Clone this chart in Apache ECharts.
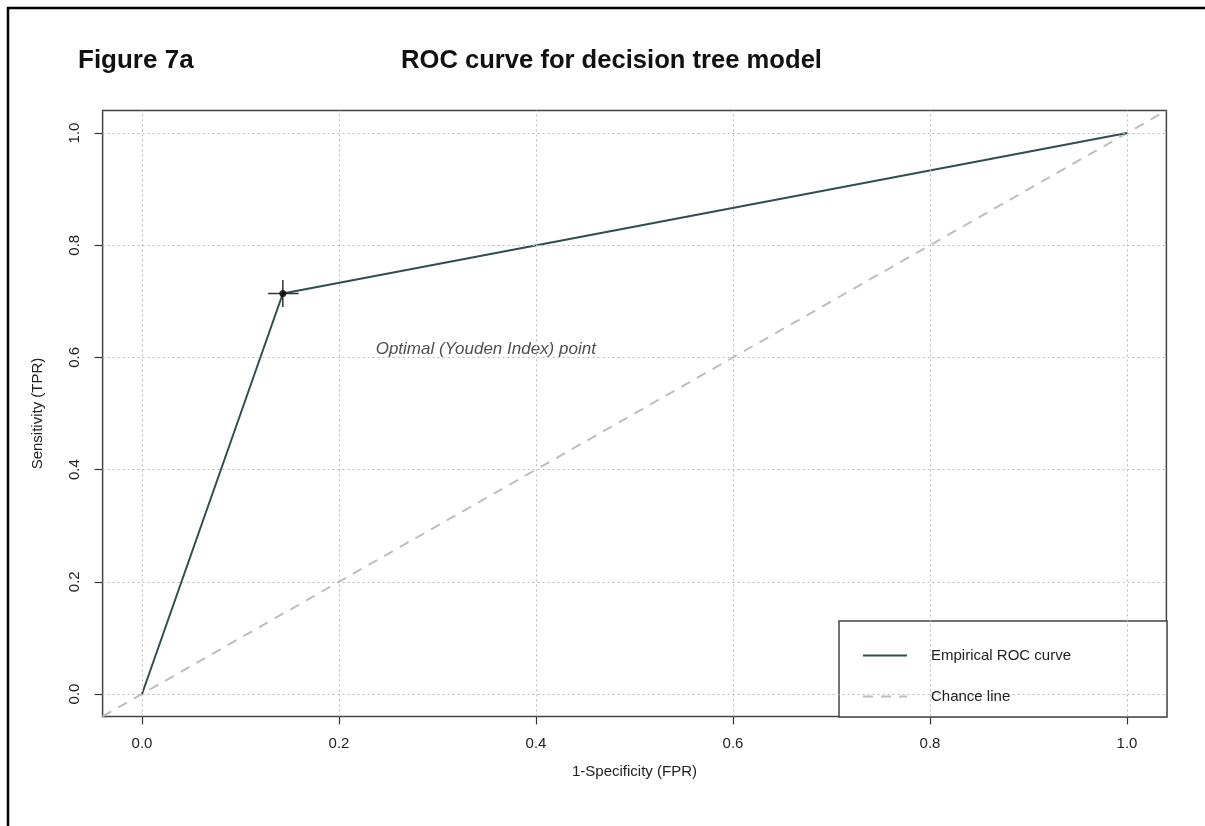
<!DOCTYPE html>
<html><head><meta charset="utf-8">
<script src="https://cdn.jsdelivr.net/npm/echarts@6/dist/echarts.min.js"></script>
<style>html,body{margin:0;padding:0;background:#fff}#c{width:1205px;height:826px}</style>
</head><body><div id="c"></div>
<script>
// ---- data ----
const rocFPR = [0, 0.143, 1];
const rocTPR = [0, 0.714, 1];
const chanceFPR = [-0.04, 1.04];
const chanceTPR = [-0.04, 1.04];
const optimalPoint = [0.143, 0.714];
const ciFPR = [0.128, 0.159];
const ciTPR = [0.690, 0.738];
const tickValues = [0, 0.2, 0.4, 0.6, 0.8, 1.0];
const annotationText = 'Optimal (Youden Index) point';
const annotationPos = [0.349, 0.615];
const seriesNames = ['Empirical ROC curve', 'Chance line'];

const FONT = '"Liberation Sans", Arial, sans-serif';
const chart = echarts.init(document.getElementById('c'));

const gridMarks = tickValues.map(v => ({ xAxis: v })).concat(tickValues.map(v => ({ yAxis: v })));

const option = {
  animation: false,
  backgroundColor: '#fff',
  textStyle: { fontFamily: FONT },
  title: [
    { text: 'Figure 7a', left: 78, top: 48, padding: 0,
      textStyle: { fontSize: 26, fontWeight: 'bold', color: '#111', fontFamily: FONT } },
    { text: 'ROC curve for decision tree model', left: 401, top: 48, padding: 0,
      textStyle: { fontSize: 25.6, fontWeight: 'bold', color: '#111', fontFamily: FONT } }
  ],
  grid: { left: 102.6, right: 38.6, top: 110.6, bottom: 109.6, show: true,
          borderColor: '#444', borderWidth: 1.5, backgroundColor: 'transparent' },
  xAxis: {
    type: 'value', min: -0.04, max: 1.04,
    name: '1-Specificity (FPR)', nameLocation: 'middle', nameGap: 48,
    nameTextStyle: { fontSize: 15, color: '#222', fontFamily: FONT },
    axisLine: { show: false, onZero: false },
    axisTick: { show: true, customValues: tickValues, length: 8, lineStyle: { color: '#333', width: 1.2 } },
    axisLabel: { customValues: tickValues, formatter: v => v.toFixed(1), margin: 20, fontSize: 15, color: '#222', fontFamily: FONT },
    splitLine: { show: false }
  },
  yAxis: {
    type: 'value', min: -0.04, max: 1.04,
    name: 'Sensitivity (TPR)', nameLocation: 'middle', nameGap: 57,
    nameTextStyle: { fontSize: 15, color: '#222', fontFamily: FONT },
    axisLine: { show: false, onZero: false },
    axisTick: { show: true, customValues: tickValues, length: 8, lineStyle: { color: '#333', width: 1.2 } },
    axisLabel: { customValues: tickValues, formatter: v => v.toFixed(1), margin: 20, rotate: 90, fontSize: 15, color: '#222', fontFamily: FONT },
    splitLine: { show: false }
  },
  legend: {
    data: seriesNames, orient: 'vertical', left: 862, top: 648, padding: 0,
    itemWidth: 44, itemHeight: 14, itemGap: 26, z: 10, selectedMode: false,
    itemStyle: { opacity: 0 },
    textStyle: { fontSize: 15, color: '#222', fontFamily: FONT, padding: [0, 0, 0, 19] }
  },
  graphic: [
    { type: 'rect', z: 5, shape: { x: 839, y: 621, width: 328, height: 96 },
      style: { fill: '#fff', stroke: '#444', lineWidth: 1.5 } },
    { type: 'line', z: 5, shape: { x1: 8, y1: 7, x2: 8, y2: 826 }, style: { stroke: '#000', lineWidth: 2.5 } },
    { type: 'line', z: 5, shape: { x1: 7, y1: 8, x2: 1205, y2: 8 }, style: { stroke: '#000', lineWidth: 2.5 } }
  ],
  series: [
    {
      name: seriesNames[1], type: 'line', symbol: 'none', z: 2,
      data: chanceFPR.map((x, i) => [x, chanceTPR[i]]),
      lineStyle: { color: '#BEBEBE', width: 2, type: [10, 8] },
      itemStyle: { color: '#BEBEBE' },
      markLine: {
        silent: true, symbol: 'none', label: { show: false },
        lineStyle: { color: '#BBBBBB', width: 1, type: [2, 3] },
        data: gridMarks
      }
    },
    {
      name: seriesNames[0], type: 'line', symbol: 'none', z: 3,
      data: rocFPR.map((x, i) => [x, rocTPR[i]]),
      lineStyle: { color: '#2F4F4F', width: 2 },
      itemStyle: { color: '#2F4F4F' }
    },
    {
      name: 'ci-fpr', type: 'line', symbol: 'none', z: 4,
      data: ciFPR.map(x => [x, optimalPoint[1]]),
      lineStyle: { color: '#333', width: 1.5 }
    },
    {
      name: 'ci-tpr', type: 'line', symbol: 'none', z: 4,
      data: ciTPR.map(y => [optimalPoint[0], y]),
      lineStyle: { color: '#333', width: 1.5 }
    },
    {
      name: 'optimal', type: 'scatter', symbol: 'circle', symbolSize: 7, z: 4,
      data: [optimalPoint], itemStyle: { color: '#000' }
    },
    {
      name: 'annotation', type: 'scatter', symbolSize: 0, z: 4,
      data: [annotationPos],
      label: { show: true, position: 'inside', formatter: annotationText,
               fontSize: 17, fontStyle: 'italic', color: '#222', fontFamily: FONT }
    }
  ]
};
chart.setOption(option);
</script></body></html>
